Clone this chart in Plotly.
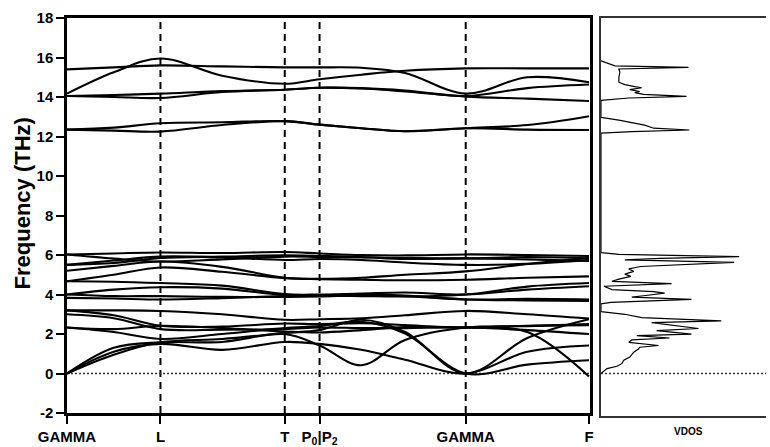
import plotly.graph_objects as go

# path coordinate of sample nodes (G, mid, L, mid, T, P0|P2, mid, mid, G, mid, F)
kpath = [0, 47, 94, 156, 219, 254, 296, 340, 401, 463, 525]
sym_pos = [0, 94, 219, 254, 401, 525]
sym_labels = ["GAMMA", "L", "T", "P<sub>0</sub>|P<sub>2</sub>", "GAMMA", "F"]
freq_ticks = [-2, 0, 2, 4, 6, 8, 10, 12, 14, 16, 18]
freq_tick_text = ["-2", "0", "2", "4", "6", "8", "10", "12", "14", "16", "18"]

# high-frequency branches (THz)
bands_high = [
    [14.17, 15.25, 15.95, 15.08, 14.67, 14.90, 15.13, 15.33, 15.45, 15.45, 15.45],
    [15.40, 15.50, 15.60, 15.55, 15.50, 15.50, 15.48, 15.22, 14.17, 15.00, 14.75],
    [14.05, 14.00, 13.95, 14.25, 14.37, 14.47, 14.43, 14.28, 14.02, 13.92, 13.80],
    [14.05, 14.10, 14.17, 14.30, 14.37, 14.47, 14.45, 14.33, 14.05, 14.45, 14.63],
    [12.35, 12.45, 12.67, 12.72, 12.78, 12.60, 12.42, 12.27, 12.42, 12.58, 13.03],
    [12.35, 12.30, 12.25, 12.58, 12.78, 12.60, 12.42, 12.27, 12.42, 12.35, 12.33],
]

# low-frequency branches (THz)
bands_low = [
    [6.03, 6.08, 6.13, 6.10, 6.15, 6.08, 6.00, 5.98, 6.03, 6.00, 5.95],
    [6.03, 5.82, 5.67, 5.78, 5.92, 5.90, 5.88, 5.85, 5.83, 5.90, 5.83],
    [5.50, 5.72, 5.92, 5.88, 5.75, 5.80, 5.75, 5.62, 5.50, 5.55, 5.75],
    [5.50, 5.60, 5.85, 5.92, 5.98, 5.95, 5.90, 5.80, 5.83, 5.78, 5.70],
    [5.20, 5.45, 5.67, 5.40, 4.85, 4.80, 4.85, 5.00, 5.17, 5.55, 5.85],
    [4.67, 5.00, 5.37, 5.15, 4.83, 4.78, 4.75, 4.72, 4.75, 4.85, 4.92],
    [4.67, 4.65, 4.58, 4.45, 4.02, 4.00, 4.05, 4.10, 4.00, 4.25, 4.42],
    [4.00, 4.25, 4.37, 4.30, 3.97, 3.95, 3.92, 3.90, 4.00, 4.40, 4.58],
    [4.00, 3.92, 3.92, 3.88, 3.88, 3.90, 3.95, 3.92, 3.75, 3.78, 3.75],
    [3.83, 3.80, 3.75, 3.82, 3.92, 3.97, 4.00, 3.95, 3.75, 3.70, 3.68],
    [3.20, 3.20, 3.17, 3.00, 2.72, 2.75, 2.80, 2.95, 3.17, 3.00, 2.78],
    [3.20, 2.95, 2.42, 2.38, 2.53, 2.50, 2.55, 2.45, 2.33, 2.42, 2.45],
    [3.00, 2.80, 2.25, 2.22, 2.25, 2.33, 2.30, 2.30, 2.33, 2.20, 2.00],
    [2.33, 2.25, 2.42, 2.30, 2.13, 2.08, 2.20, 2.35, 2.33, 2.10, -0.15],
    [2.33, 2.10, 1.75, 2.00, 2.30, 2.40, 2.62, 2.02, 0.00, 0.45, 0.67],
    [0.00, 1.30, 1.58, 1.60, 2.00, 1.42, 0.42, 1.70, 2.33, 2.40, 2.50],
    [0.00, 1.10, 1.50, 1.20, 1.60, 1.50, 1.20, 0.70, 0.00, 1.10, 1.42],
    [0.00, 0.95, 1.58, 1.75, 2.05, 2.20, 2.72, 2.10, 0.00, 1.80, 2.75],
]

# vibrational density of states (arbitrary units) vs frequency (THz)
vdos_freq = [0.00, 0.25, 0.37, 0.50, 0.67, 0.83, 1.08, 1.25, 1.33, 1.42, 1.58,
             1.70, 1.80, 1.92, 2.00, 2.17, 2.28, 2.58, 2.67, 2.83, 3.00, 3.08,
             3.13, 3.53, 3.60, 3.75, 3.87, 3.95, 4.07, 4.15, 4.25, 4.42, 4.55,
             4.67, 4.78, 4.92, 5.03, 5.17, 5.30, 5.42, 5.63, 5.75, 5.83, 5.92,
             6.03, 6.12, 12.17, 12.25, 12.33, 12.42, 12.58, 12.83, 12.97, 13.83,
             13.95, 14.03, 14.13, 14.22, 14.28, 14.37, 14.47, 14.53, 14.63,
             14.75, 15.00, 15.25, 15.42, 15.50, 15.58, 15.83]
vdos_dens = [0, 6, 16, 21, 23, 29, 33, 38, 39, 58, 28,
             31, 69, 36, 91, 56, 98, 51, 121, 41, 24, 11,
             0, 0, 10, 91, 31, 45, 64, 53, 11, 3, 71,
             11, 18, 30, 24, 33, 28, 40, 134, 24, 60, 139,
             18, 0, 0, 31, 89, 53, 44, 18, 0, 0,
             28, 86, 43, 34, 39, 29, 41, 34, 24,
             18, 18, 19, 18, 88, 14, 0]

FONT = "Liberation Sans, Arial, sans-serif"

fig = go.Figure()
for band in bands_high + bands_low:
    fig.add_trace(go.Scatter(
        x=kpath, y=band, mode="lines", xaxis="x", yaxis="y",
        line=dict(color="black", width=2.1, shape="spline", smoothing=1.0),
        showlegend=False, hoverinfo="skip"))

fig.add_trace(go.Scatter(
    x=vdos_dens, y=vdos_freq, mode="lines", xaxis="x2", yaxis="y2",
    line=dict(color="black", width=1.2), showlegend=False, hoverinfo="skip"))

shapes = []
for xv in sym_pos[1:-1]:
    shapes.append(dict(type="line", xref="x", yref="y", x0=xv, x1=xv, y0=-2, y1=18,
                       line=dict(color="black", width=2, dash="7px,5px"), layer="below"))
shapes.append(dict(type="line", xref="x", yref="y", x0=0, x1=sym_pos[-1], y0=0, y1=0,
                   line=dict(color="#333", width=1.5, dash="2px,2px"), layer="below"))
shapes.append(dict(type="line", xref="x2", yref="y2", x0=0, x1=166, y0=0, y1=0,
                   line=dict(color="#333", width=1.5, dash="2px,2px"), layer="below"))

fig.update_layout(
    width=770, height=447,
    margin=dict(l=67, r=0, t=18, b=25),
    paper_bgcolor="white", plot_bgcolor="white",
    showlegend=False,
    shapes=shapes,
    xaxis=dict(domain=[0, 0.7482], range=[0, 526], tickvals=sym_pos, ticktext=sym_labels,
               ticks="outside", ticklen=8, tickwidth=2, tickcolor="black",
               showline=True, linewidth=2.5, linecolor="black", mirror=True,
               showgrid=False, zeroline=False,
               tickfont=dict(family=FONT, size=15, color="black", weight="bold")),
    yaxis=dict(domain=[3 / 404, 1], range=[-2, 18],
               tickvals=freq_ticks, ticktext=freq_tick_text,
               ticks="outside", ticklen=8, tickwidth=2, tickcolor="black",
               showline=True, linewidth=2.5, linecolor="black", mirror=True,
               showgrid=False, zeroline=False,
               tickfont=dict(family=FONT, size=15, color="black", weight="bold")),
    xaxis2=dict(domain=[0.7639, 1], range=[0, 166], anchor="y2",
                showticklabels=False, ticks="", showgrid=False, zeroline=False,
                showline=True, linewidth=1.5, linecolor="#333", mirror=True),
    yaxis2=dict(domain=[0, 1], range=[-2.15, 18], anchor="x2",
                showticklabels=False, ticks="", showgrid=False, zeroline=False,
                showline=True, linewidth=1.5, linecolor="#333"),
    annotations=[
        dict(text="VDOS", xref="paper", yref="paper", x=0.889, y=-0.04,
             xanchor="center", yanchor="middle", showarrow=False,
             font=dict(family=FONT, size=10, color="black", weight="bold")),
        dict(text="Frequency (THz)", xref="paper", yref="paper",
             x=-45 / 703, y=(422 - 206) / 404, xanchor="center", yanchor="middle",
             textangle=-90, showarrow=False,
             font=dict(family=FONT, size=22, color="black", weight="bold")),
    ],
)

fig.write_html("out.html")
